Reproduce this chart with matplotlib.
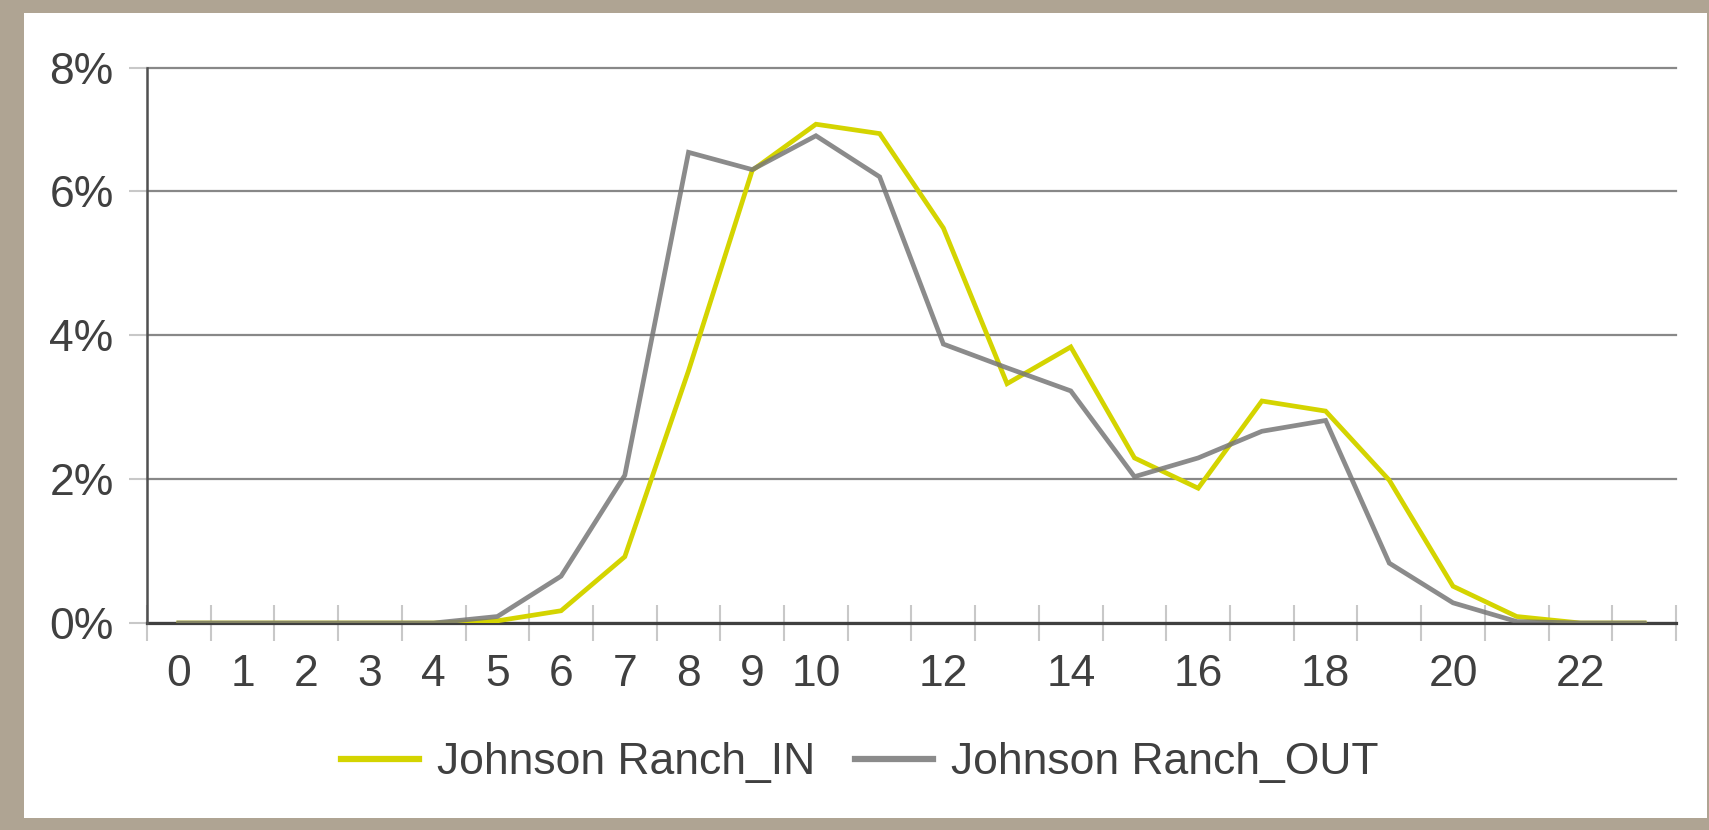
import matplotlib
matplotlib.use("Agg")
import matplotlib.pyplot as plt
from matplotlib.patches import Rectangle
from matplotlib.ticker import FixedLocator

plt.rcParams["font.family"] = ["Liberation Sans", "DejaVu Sans"]

# hourly share of traffic (%)
hours = list(range(24))
traffic_in = [0, 0, 0, 0, 0, 0.03, 0.17, 0.92, 3.50, 6.28, 6.92, 6.79,
              5.48, 3.32, 3.83, 2.29, 1.87, 3.08, 2.94, 1.98, 0.51, 0.09, 0, 0]
traffic_out = [0, 0, 0, 0, 0, 0.09, 0.65, 2.05, 6.53, 6.29, 6.76, 6.19,
               3.87, 3.54, 3.22, 2.03, 2.29, 2.66, 2.81, 0.83, 0.28, 0.02, 0, 0]
series_names = ["Johnson Ranch_IN", "Johnson Ranch_OUT"]

hour_labels = [0, 1, 2, 3, 4, 5, 6, 7, 8, 9, 10, 12, 14, 16, 18, 20, 22]
y_ticks = [0, 2, 4, 6, 7.7]
y_labels = ["0%", "2%", "4%", "6%", "8%"]

text_color = "#404040"
yellow = "#d4d400"
grey = "#777777"

fig = plt.figure(figsize=(17.09, 8.30), dpi=100, facecolor="#afa493")
# white card behind the chart
fig.patches.append(Rectangle((24 / 1709, 1 - 818 / 830), 1683 / 1709, 805 / 830,
                             transform=fig.transFigure, facecolor="white",
                             edgecolor="none", zorder=-1))

ax = fig.add_axes([147 / 1709, 1 - 623 / 830, 1529 / 1709, 555 / 830])
ax.set_facecolor("none")

ax.plot(hours, traffic_in, color=yellow, lw=3.4, label=series_names[0],
        solid_joinstyle="miter", zorder=3)
ax.plot(hours, traffic_out, color=grey, lw=3.4, alpha=0.85, label=series_names[1],
        solid_joinstyle="miter", zorder=4)

ax.set_xlim(-0.5, 23.5)
ax.set_ylim(0, 7.7)

# y axis
ax.set_yticks(y_ticks)
ax.set_yticklabels(y_labels)
ax.yaxis.grid(True, color="#888888", lw=1.6)
for gl in ax.get_ygridlines():
    gl.set_clip_on(False)
ax.set_axisbelow(True)
ax.tick_params(axis="y", length=13, width=1.5, color="#c8c8c8",
               pad=11, labelsize=32, labelcolor=text_color)

# x axis: labels at hours, tick marks on bin edges
ax.set_xticks(hour_labels)
ax.set_xticklabels([str(h) for h in hour_labels])
ax.xaxis.set_minor_locator(FixedLocator([h - 0.5 for h in range(25)]))
ax.tick_params(axis="x", which="major", length=0, pad=22,
               labelsize=32, labelcolor=text_color)
ax.tick_params(axis="x", which="minor", length=26, width=1.5,
               color="#c8c8c8", direction="inout")

for side in ("top", "right"):
    ax.spines[side].set_visible(False)
ax.spines["bottom"].set_color("#404040")
ax.spines["bottom"].set_linewidth(2.3)
ax.spines["bottom"].set_zorder(2)
ax.spines["left"].set_color("#505050")
ax.spines["left"].set_linewidth(1.8)

leg = fig.legend(loc="center", bbox_to_anchor=(0.503, 0.081), ncol=2,
                 frameon=False, fontsize=32, handlelength=1.75,
                 handletextpad=0.4, columnspacing=0.9)
for line in leg.get_lines():
    line.set_linewidth(4.5)
for t in leg.get_texts():
    t.set_color(text_color)

fig.savefig("out.png", dpi=100, facecolor=fig.get_facecolor())
